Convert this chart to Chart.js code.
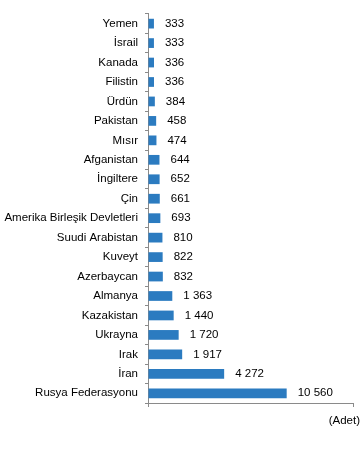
<!DOCTYPE html>
<html>
<head>
<meta charset="utf-8">
<script src="https://cdn.jsdelivr.net/npm/chart.js@4.4.0/dist/chart.umd.min.js"></script>
<style>
  html, body { margin: 0; padding: 0; background: #fff; }
  #wrap { width: 363px; height: 476px; position: relative; }
</style>
</head>
<body>
<div id="wrap"><canvas id="main-chart"></canvas></div>
<script>
// ── Data ─────────────────────────────────────────────────────
const categories = [
  'Yemen', 'İsrail', 'Kanada', 'Filistin', 'Ürdün', 'Pakistan', 'Mısır',
  'Afganistan', 'İngiltere', 'Çin', 'Amerika Birleşik Devletleri',
  'Suudi Arabistan', 'Kuveyt', 'Azerbaycan', 'Almanya', 'Kazakistan',
  'Ukrayna', 'Irak', 'İran', 'Rusya Federasyonu'
];
const values = [
  333, 333, 336, 336, 384, 458, 474,
  644, 652, 661, 693,
  810, 822, 832, 1363, 1440,
  1720, 1917, 4272, 10560
];
const unitLabel = '(Adet)';

const FONT = "'Liberation Sans', Arial, sans-serif";
const BAR_COLOR = '#2b7bc0';
const AXIS_COLOR = '#8a8a8a';

// axis is shortened above BREAK_AT (the source chart squeezes the largest bar)
const BREAK_AT = 5000;
const COMPRESS = 2;
const X_MAX = 18000;

const fmt = v => String(v).replace(/\B(?=(\d{3})+(?!\d))/g, ' ');

// ── Broken linear scale ──────────────────────────────────────
class BrokenLinearScale extends Chart.LinearScale {
  static id = 'brokenLinear';
  static defaults = Chart.LinearScale.defaults;

  toVirtual(v) {
    return v <= BREAK_AT ? v : BREAK_AT + (v - BREAK_AT) / COMPRESS;
  }
  fromVirtual(u) {
    return u <= BREAK_AT ? u : BREAK_AT + (u - BREAK_AT) * COMPRESS;
  }
  getPixelForValue(v) {
    if (v === null || v === undefined) return NaN;
    const lo = this.toVirtual(this.min), hi = this.toVirtual(this.max);
    return this.getPixelForDecimal((this.toVirtual(v) - lo) / (hi - lo));
  }
  getValueForPixel(p) {
    const lo = this.toVirtual(this.min), hi = this.toVirtual(this.max);
    return this.fromVirtual(lo + this.getDecimalForPixel(p) * (hi - lo));
  }
}
Chart.register(BrokenLinearScale);

// ── Labels ───────────────────────────────────────────────────
const valueLabels = {
  id: 'valueLabels',
  afterDatasetsDraw(chart) {
    const { ctx, chartArea } = chart;
    const meta = chart.getDatasetMeta(0);
    ctx.save();
    ctx.font = `11.5px ${FONT}`;
    ctx.fillStyle = '#000';
    ctx.textBaseline = 'middle';
    ctx.textAlign = 'left';
    meta.data.forEach((bar, i) => ctx.fillText(fmt(values[i]), bar.x + 11, bar.y));
    ctx.textAlign = 'right';
    ctx.fillText(unitLabel, chartArea.right + 7, chartArea.bottom + 18);
    ctx.restore();
  }
};

// ── Chart ────────────────────────────────────────────────────
new Chart(document.getElementById('main-chart').getContext('2d'), {
  type: 'bar',
  data: {
    labels: categories,
    datasets: [{
      data: values,
      backgroundColor: BAR_COLOR,
      barPercentage: 0.5,
      categoryPercentage: 1
    }]
  },
  options: {
    indexAxis: 'y',
    responsive: true,
    maintainAspectRatio: false,
    animation: false,
    layout: { padding: { top: 11, right: 10, left: 0, bottom: 0 } },
    plugins: { legend: { display: false }, tooltip: { enabled: false } },
    scales: {
      x: {
        type: 'brokenLinear',
        min: 0,
        max: X_MAX,
        afterBuildTicks: s => { s.ticks = [{ value: 0 }, { value: X_MAX }]; },
        afterFit: s => { s.height = 73; },
        ticks: { display: false },
        grid: { drawOnChartArea: false, drawTicks: true, tickLength: 4, color: AXIS_COLOR },
        border: { color: AXIS_COLOR, width: 1 }
      },
      y: {
        afterFit: s => { s.width = 148; },
        ticks: { color: '#000', font: { size: 11.5, family: FONT }, padding: 7, autoSkip: false },
        grid: { offset: true, drawOnChartArea: false, drawTicks: true, tickLength: 3, color: AXIS_COLOR },
        border: { color: AXIS_COLOR, width: 1 }
      }
    }
  },
  plugins: [valueLabels]
});
</script>
</body>
</html>
